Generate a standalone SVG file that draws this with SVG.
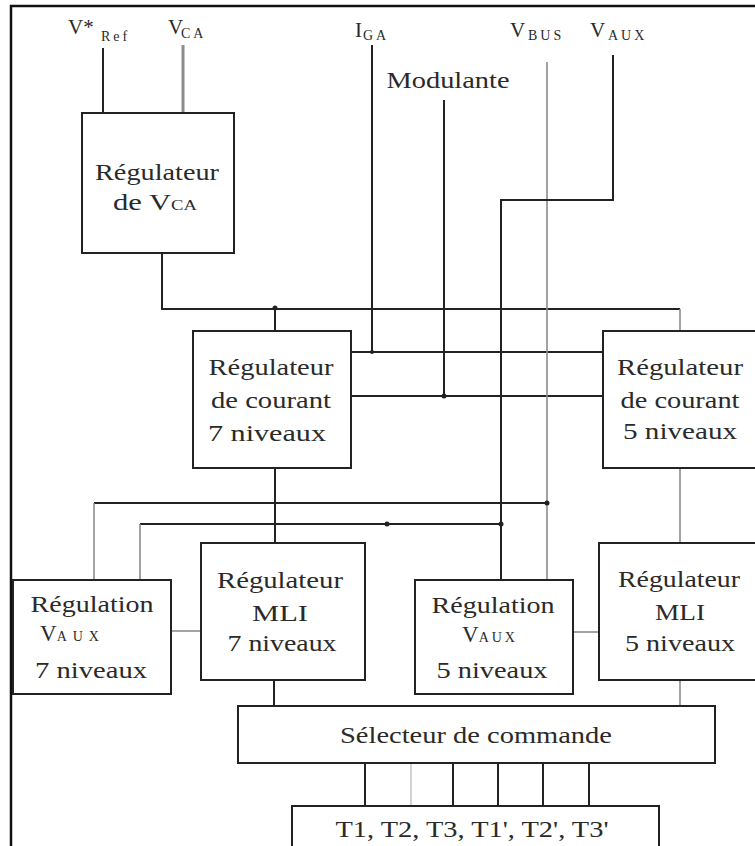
<svg xmlns="http://www.w3.org/2000/svg" width="755" height="846" viewBox="0 0 755 846">
<style>
.box{fill:#fff;stroke:#222;stroke-width:2}
.w{fill:none;stroke:#222;stroke-width:2}
.g{fill:none;stroke:#8c8c8c;stroke-width:1.6}
.lg{fill:none;stroke:#c8c8c8;stroke-width:1.6}
.t{font-family:"Liberation Serif","Times New Roman",serif;font-size:23px;fill:#2a2a2a;text-anchor:middle}
.s{text-anchor:start}
.lbl{font-family:"Liberation Serif","Times New Roman",serif;font-size:21px;fill:#2a2a2a}
.sub{font-size:14px;letter-spacing:3px}
.dot{fill:#222}
</style>
<rect x="11" y="6" width="790" height="900" fill="none" stroke="#111" stroke-width="2.5"/>

<g id="inputs">
<text class="lbl" x="68" y="34">V*<tspan class="sub" x="101" y="41">Ref</tspan></text>
<text class="lbl" x="168" y="34">V<tspan class="sub" x="181" y="38">CA</tspan></text>
<text class="lbl" x="355" y="37">I<tspan class="sub" x="363" y="40">GA</tspan></text>
<text class="lbl" x="510" y="37">V<tspan class="sub" x="528" y="40">BUS</tspan></text>
<text class="lbl" x="590" y="37">V<tspan class="sub" x="608" y="40">AUX</tspan></text>
<text class="t" x="448" y="88" textLength="123" lengthAdjust="spacingAndGlyphs">Modulante</text>
</g>

<g id="connectors">
<line class="w" x1="103" y1="48" x2="103" y2="113"/>
<line x1="183" y1="45" x2="183" y2="113" stroke="#8c8c8c" stroke-width="3"/>
<polyline class="w" points="162,253 162,309 680,309"/>
<line class="g" x1="680" y1="309" x2="680" y2="331"/>
<line class="w" x1="275" y1="309" x2="275" y2="331"/>
<polyline class="w" points="372,45 372,352"/>
<line class="w" x1="351" y1="352" x2="603" y2="352"/>
<line class="w" x1="444" y1="100" x2="444" y2="396"/>
<line class="w" x1="351" y1="396" x2="603" y2="396"/>
<line class="g" x1="547" y1="62" x2="547" y2="580"/>
<polyline class="w" points="613,55 613,200 501,200 501,580"/>
<line class="w" x1="275" y1="468" x2="275" y2="543"/>
<line class="w" x1="94" y1="503" x2="547" y2="503"/>
<line class="g" x1="94" y1="503" x2="94" y2="580"/>
<line class="w" x1="140" y1="524" x2="501" y2="524"/>
<line class="g" x1="140" y1="524" x2="140" y2="580"/>
<line class="g" x1="680" y1="468" x2="680" y2="543"/>
<line class="g" x1="171" y1="631" x2="201" y2="631"/>
<line class="g" x1="573" y1="632" x2="599" y2="632"/>
<line class="w" x1="274" y1="680" x2="274" y2="706"/>
<line class="g" x1="680" y1="680" x2="680" y2="706"/>
<line class="w" x1="365" y1="763" x2="365" y2="806"/>
<line class="lg" x1="411" y1="763" x2="411" y2="806"/>
<line class="w" x1="453" y1="763" x2="453" y2="806"/>
<line class="w" x1="498" y1="763" x2="498" y2="806"/>
<line class="w" x1="543" y1="763" x2="543" y2="806"/>
<line class="w" x1="589" y1="763" x2="589" y2="806"/>
<circle class="dot" cx="275" cy="308" r="2.5"/>
<circle class="dot" cx="372" cy="352" r="2"/>
<circle class="dot" cx="444" cy="396" r="2.5"/>
<circle class="dot" cx="547" cy="503" r="2.5"/>
<circle class="dot" cx="501" cy="524" r="2.5"/>
<circle class="dot" cx="387" cy="524" r="2.5"/>
</g>

<g id="reg-vca">
<rect class="box" x="82" y="113" width="152" height="140"/>
<text class="t" x="157" y="180" textLength="124" lengthAdjust="spacingAndGlyphs">Régulateur</text>
<text class="t s" x="113" y="210" textLength="84" lengthAdjust="spacingAndGlyphs">de V<tspan font-size="14">CA</tspan></text>
</g>

<g id="courant7">
<rect class="box" x="193" y="331" width="158" height="137"/>
<text class="t" x="271" y="375" textLength="125" lengthAdjust="spacingAndGlyphs">Régulateur</text>
<text class="t" x="271" y="408" textLength="120" lengthAdjust="spacingAndGlyphs">de courant</text>
<text class="t" x="267" y="441" textLength="118" lengthAdjust="spacingAndGlyphs">7 niveaux</text>
</g>

<g id="courant5">
<rect class="box" x="603" y="331" width="160" height="137"/>
<text class="t" x="680" y="375" textLength="126" lengthAdjust="spacingAndGlyphs">Régulateur</text>
<text class="t" x="680" y="408" textLength="119" lengthAdjust="spacingAndGlyphs">de courant</text>
<text class="t" x="680" y="439" textLength="114" lengthAdjust="spacingAndGlyphs">5 niveaux</text>
</g>

<g id="vaux7">
<rect class="box" x="13" y="580" width="158" height="114"/>
<text class="t" x="92" y="612" textLength="123" lengthAdjust="spacingAndGlyphs">Régulation</text>
<text class="t s" x="40" y="641">V<tspan font-size="14" letter-spacing="6">AUX</tspan></text>
<text class="t" x="91" y="678" textLength="112" lengthAdjust="spacingAndGlyphs">7 niveaux</text>
</g>

<g id="mli7">
<rect class="box" x="201" y="543" width="164" height="137"/>
<text class="t" x="280" y="588" textLength="126" lengthAdjust="spacingAndGlyphs">Régulateur</text>
<text class="t" x="280" y="621" textLength="56" lengthAdjust="spacingAndGlyphs">MLI</text>
<text class="t" x="282" y="651" textLength="109" lengthAdjust="spacingAndGlyphs">7 niveaux</text>
</g>

<g id="vaux5">
<rect class="box" x="415" y="580" width="158" height="114"/>
<text class="t" x="493" y="613" textLength="123" lengthAdjust="spacingAndGlyphs">Régulation</text>
<text class="t s" x="462" y="642">V<tspan font-size="14" letter-spacing="3">AUX</tspan></text>
<text class="t" x="492" y="678" textLength="111" lengthAdjust="spacingAndGlyphs">5 niveaux</text>
</g>

<g id="mli5">
<rect class="box" x="599" y="543" width="164" height="137"/>
<text class="t" x="679" y="587" textLength="122" lengthAdjust="spacingAndGlyphs">Régulateur</text>
<text class="t" x="680" y="620" textLength="50" lengthAdjust="spacingAndGlyphs">MLI</text>
<text class="t" x="680" y="651" textLength="110" lengthAdjust="spacingAndGlyphs">5 niveaux</text>
</g>

<g id="selecteur">
<rect class="box" x="238" y="706" width="477" height="57"/>
<text class="t" x="476" y="743" textLength="272" lengthAdjust="spacingAndGlyphs">Sélecteur de commande</text>
</g>

<g id="sorties">
<rect class="box" x="292" y="806" width="367" height="60"/>
<text class="t" x="472" y="837" textLength="273" lengthAdjust="spacingAndGlyphs">T1, T2, T3, T1', T2', T3'</text>
</g>
</svg>
